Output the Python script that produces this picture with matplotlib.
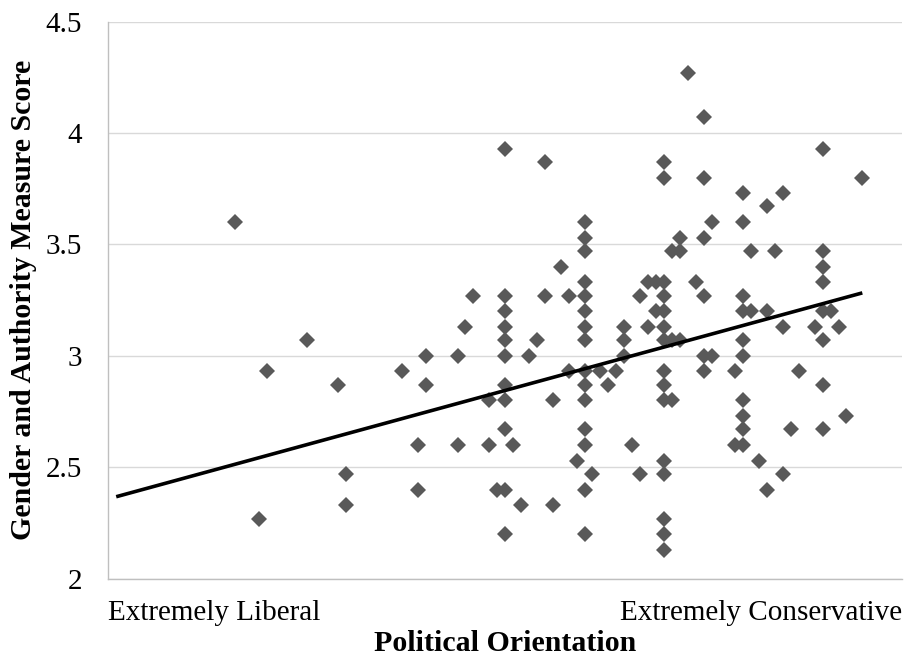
import numpy as np
import matplotlib
matplotlib.use("Agg")
import matplotlib.pyplot as plt

# Political orientation (0 = extremely liberal, 100 = extremely conservative)
orientation = [
    16, 19, 20, 25, 29, 30, 30, 37, 39, 39, 40, 40, 44, 44, 45, 46, 48, 48, 49,
    50, 50, 50, 50, 50, 50, 50, 50, 50, 50, 50,
    51, 52, 53, 54, 55, 55, 56, 56, 57, 58, 58, 59,
    60, 60, 60, 60, 60, 60, 60, 60, 60, 60, 60, 60, 60, 60, 60,
    61, 62, 63, 64, 65, 65, 65, 66, 67, 67, 68, 68, 69, 69,
    70, 70, 70, 70, 70, 70, 70, 70, 70, 70, 70, 70, 70, 70, 70,
    71, 71, 71, 72, 72, 72, 73, 74, 75, 75, 75, 75, 75, 75, 76, 76,
    79, 79, 80, 80, 80, 80, 80, 80, 80, 80, 80, 80,
    81, 81, 82, 83, 83, 83, 84, 85, 85, 85, 86, 87, 89,
    90, 90, 90, 90, 90, 90, 90, 90,
    91, 92, 93, 95,
]

# Gender and Authority Measure score for each respondent
score = [
    3.6, 2.27, 2.93, 3.07, 2.87, 2.47, 2.33, 2.93, 2.6, 2.4, 3.0, 2.87, 3.0, 2.6, 3.13, 3.27, 2.8, 2.6, 2.4,
    3.93, 3.27, 3.2, 3.13, 3.07, 3.0, 2.87, 2.8, 2.67, 2.4, 2.2,
    2.6, 2.33, 3.0, 3.07, 3.87, 3.27, 2.8, 2.33, 3.4, 3.27, 2.93, 2.53,
    3.6, 3.53, 3.47, 3.33, 3.27, 3.2, 3.13, 3.07, 2.93, 2.87, 2.8, 2.67, 2.6, 2.4, 2.2,
    2.47, 2.93, 2.87, 2.93, 3.13, 3.07, 3.0, 2.6, 3.27, 2.47, 3.33, 3.13, 3.33, 3.2,
    3.87, 3.8, 3.33, 3.27, 3.2, 3.13, 3.07, 2.93, 2.87, 2.8, 2.53, 2.47, 2.27, 2.2, 2.13,
    3.47, 3.07, 2.8, 3.53, 3.47, 3.07, 4.27, 3.33, 4.07, 3.8, 3.53, 3.27, 3.0, 2.93, 3.6, 3.0,
    2.93, 2.6, 3.73, 3.6, 3.27, 3.2, 3.07, 3.0, 2.8, 2.73, 2.67, 2.6,
    3.47, 3.2, 2.53, 3.67, 3.2, 2.4, 3.47, 3.73, 3.13, 2.47, 2.67, 2.93, 3.13,
    3.93, 3.47, 3.4, 3.33, 3.2, 3.07, 2.87, 2.67,
    3.2, 3.13, 2.73, 3.8,
]

# Linear trend line of the full sample
trend_intercept = 2.358
trend_slope = 0.00973
trend_start = 1

x_ticks = [0, 100]
x_tick_labels = ["Extremely Liberal", "Extremely Conservative"]
y_ticks = [2, 2.5, 3, 3.5, 4, 4.5]
y_tick_labels = ["2", "2.5", "3", "3.5", "4", "4.5"]

plt.rcParams["font.family"] = ["Liberation Serif", "DejaVu Serif"]

fig = plt.figure(figsize=(9.09, 6.60), dpi=100)
ax = fig.add_axes([0.1191, 0.1232, 0.8732, 0.8442])

ax.set_xlim(0, 100)
ax.set_ylim(2, 4.5)

ax.yaxis.grid(True, color="#D9D9D9", linewidth=1.0, zorder=0)
ax.set_axisbelow(True)

ax.plot(orientation, score, linestyle="none", marker="D", markersize=8.5,
        markerfacecolor="#595959", markeredgewidth=0, zorder=3)

tx = np.array([trend_start, max(orientation)])
ax.plot(tx, trend_intercept + trend_slope * tx, color="black", linewidth=2.6,
        zorder=4, solid_capstyle="butt")

for side in ("top", "right"):
    ax.spines[side].set_visible(False)
for side in ("left", "bottom"):
    ax.spines[side].set_color("#BFBFBF")
    ax.spines[side].set_linewidth(1.0)

ax.set_yticks(y_ticks)
ax.set_yticklabels(y_tick_labels, fontsize=21)
ax.set_xticks(x_ticks)
ax.set_xticklabels(x_tick_labels, fontsize=21)
xl = ax.get_xticklabels()
xl[0].set_ha("left")
xl[1].set_ha("right")
ax.tick_params(axis="y", length=0, pad=19)
ax.tick_params(axis="x", length=0, pad=15)

ax.set_xlabel("Political Orientation", fontsize=21.5, fontweight="bold", labelpad=3)
ax.set_ylabel("Gender and Authority Measure Score", fontsize=21.5, fontweight="bold", labelpad=6)

fig.savefig("out.png", dpi=100)
